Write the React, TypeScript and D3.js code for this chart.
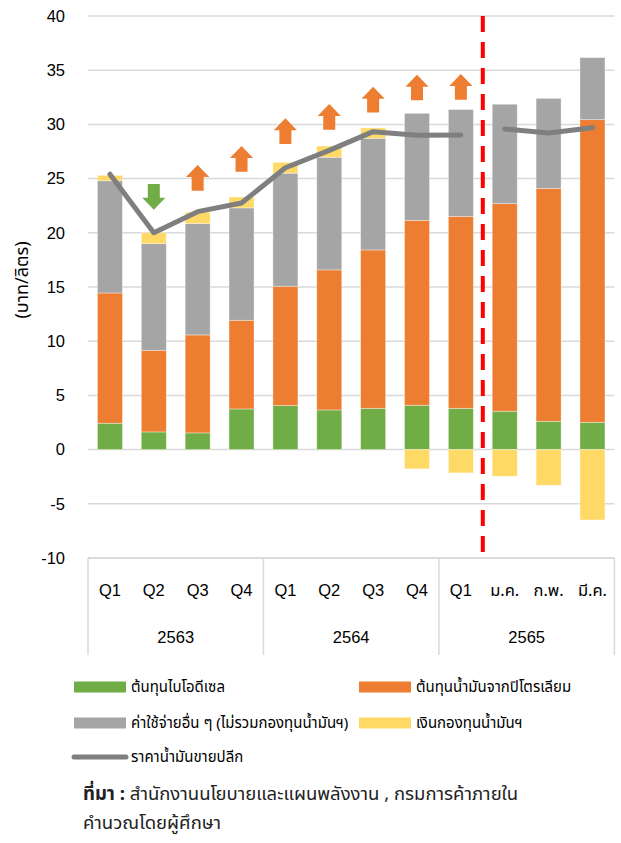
import React from "react";
import * as d3 from "d3";

// ---- data ----
const categoryKeys = ["63Q1", "63Q2", "63Q3", "63Q4", "64Q1", "64Q2", "64Q3", "64Q4", "65Q1", "65M1", "65M2", "65M3"];
const categoryLabels = ["Q1", "Q2", "Q3", "Q4", "Q1", "Q2", "Q3", "Q4", "Q1", "ม.ค.", "ก.พ.", "มี.ค."];
const yearGroups = ["2563", "2564", "2565"];
const yearGroupSizes = [4, 4, 4];

const biodieselCost = [2.43, 1.63, 1.54, 3.75, 4.06, 3.66, 3.81, 4.09, 3.81, 3.54, 2.61, 2.52];
const petroleumCost = [12.02, 7.53, 9.04, 8.18, 11.01, 12.92, 14.61, 17.06, 17.71, 19.15, 21.49, 27.92];
const otherCosts = [10.35, 9.84, 10.27, 10.37, 10.43, 10.39, 10.3, 9.87, 9.85, 9.17, 8.3, 5.72];
const oilFund = [0.5, 1.0, 1.05, 1.0, 1.0, 1.03, 0.95, -1.78, -2.15, -2.46, -3.29, -6.49];
const retailPrice = [25.4, 20.0, 21.95, 22.75, 26.0, 27.6, 29.33, 29.0, 29.03, 29.58, 29.2, 29.7];
const lineSegments = [[0, 8], [9, 11]];

const arrowDirection = [null, "down", "up", "up", "up", "up", "up", "up", "up", null, null, null];
const arrowTopValue = [null, 24.5, 26.25, 28.0, 30.56, 31.88, 33.48, 34.59, 34.65, null, null, null];

const yTicks = [-10, -5, 0, 5, 10, 15, 20, 25, 30, 35, 40];
const dividerAfterIndex = 8;

const seriesNames = ["ต้นทุนไบโอดีเซล", "ต้นทุนน้ำมันจากปิโตรเลียม", "ค่าใช้จ่ายอื่น ๆ (ไม่รวมกองทุนน้ำมันฯ)", "เงินกองทุนน้ำมันฯ", "ราคาน้ำมันขายปลีก"];
const seriesColors = ["#70AD47", "#ED7D31", "#A5A5A5", "#FFD966", "#7F7F7F"];

const yAxisTitle = "(บาท/ลิตร)";
const sourceBold = "ที่มา :";
const sourceText = " สำนักงานนโยบายและแผนพลังงาน , กรมการค้าภายใน";
const sourceText2 = "คำนวณโดยผู้ศึกษา";

const W = 621;
const H = 843;
const plotLeft = 88;
const plotRight = 614.4;
const plotTop = 16;
const plotBottom = 558;

const latin = "'Liberation Sans', Arial, Helvetica, sans-serif";
const thai = "'Noto Sans Thai', 'Noto Sans Thai Looped', 'Liberation Sans', sans-serif";

export default function App() {
  const x = d3.scaleBand<string>().domain(categoryKeys).range([plotLeft, plotRight]).paddingInner(0.43).paddingOuter(0.215);
  const y = d3.scaleLinear().domain([-10, 40]).range([plotBottom, plotTop]);
  const bw = x.bandwidth();

  // stacked segments
  const bars: { key: string; x: number; y0: number; y1: number; color: string }[] = [];
  categoryKeys.forEach((k, i) => {
    let pos = 0;
    const comps = [biodieselCost[i], petroleumCost[i], otherCosts[i]];
    comps.forEach((v, j) => {
      bars.push({ key: k + j, x: x(k)!, y0: pos, y1: pos + v, color: seriesColors[j] });
      pos += v;
    });
    const f = oilFund[i];
    if (f >= 0) bars.push({ key: k + "f", x: x(k)!, y0: pos, y1: pos + f, color: seriesColors[3] });
    else bars.push({ key: k + "f", x: x(k)!, y0: f, y1: 0, color: seriesColors[3] });
  });

  const segPaths = lineSegments.map(([a, b]) => {
    const pts: [number, number][] = [];
    for (let i = a; i <= b; i++) pts.push([x(categoryKeys[i])! + bw / 2, y(retailPrice[i])]);
    return d3.line()(pts) as string;
  });

  const arrowPath = (cx: number, top: number, dir: string) => {
    const h = 25.7, hw = 11.6, sw = 6, hh = 12;
    if (dir === "up") {
      return `M${cx},${top} L${cx + hw},${top + hh} L${cx + sw},${top + hh} L${cx + sw},${top + h} L${cx - sw},${top + h} L${cx - sw},${top + hh} L${cx - hw},${top + hh} Z`;
    }
    const b = top + h;
    return `M${cx},${b} L${cx + hw},${b - hh} L${cx + sw},${b - hh} L${cx + sw},${top} L${cx - sw},${top} L${cx - sw},${b - hh} L${cx - hw},${b - hh} Z`;
  };

  const step = x.step();
  let acc = 0;
  const groupBounds = yearGroupSizes.map((n) => {
    const start = plotLeft + acc * step;
    acc += n;
    return { start, end: plotLeft + acc * step };
  });

  const dividerX = plotLeft + (dividerAfterIndex + 1) * step;

  const legendItems = [
    { name: seriesNames[0], color: seriesColors[0], x: 74, y: 687, type: "rect" },
    { name: seriesNames[1], color: seriesColors[1], x: 359, y: 687, type: "rect" },
    { name: seriesNames[2], color: seriesColors[2], x: 74, y: 723, type: "rect" },
    { name: seriesNames[3], color: seriesColors[3], x: 359, y: 723, type: "rect" },
    { name: seriesNames[4], color: seriesColors[4], x: 74, y: 757, type: "line" },
  ];

  return (
    <div style={{ position: "absolute", left: 0, top: 0, width: W, height: H, background: "#fff" }}>
      <svg width={W} height={H} style={{ display: "block" }}>
        {/* gridlines */}
        {yTicks.map((t) => (
          <line key={t} x1={plotLeft} x2={plotRight} y1={y(t)} y2={y(t)} stroke="#D9D9D9" strokeWidth={1.5} />
        ))}
        {/* tick labels */}
        {yTicks.map((t) => (
          <text key={"l" + t} x={65} y={y(t)} dy="0.35em" textAnchor="end" fontSize={16.5} fontFamily={latin} fill="#000">
            {t}
          </text>
        ))}
        <text transform={`translate(22,280) rotate(-90)`} textAnchor="middle" dy="0.35em" fontSize={18} fontFamily={thai} fill="#000">
          {yAxisTitle}
        </text>

        {/* bars */}
        {bars.map((b) => (
          <rect
            key={b.key}
            x={b.x}
            y={y(b.y1)}
            width={bw}
            height={Math.abs(y(b.y0) - y(b.y1))}
            fill={b.color}
            stroke="#fff"
            strokeOpacity={0.45}
            strokeWidth={0.8}
          />
        ))}

        {/* retail price line */}
        {segPaths.map((p, i) => (
          <path key={i} d={p} fill="none" stroke={seriesColors[4]} strokeWidth={5} strokeLinejoin="round" strokeLinecap="round" />
        ))}

        {/* arrows */}
        {categoryKeys.map((k, i) =>
          arrowDirection[i] ? (
            <path
              key={"a" + k}
              d={arrowPath(x(k)! + bw / 2, y(arrowTopValue[i] as number), arrowDirection[i] as string)}
              fill={arrowDirection[i] === "up" ? seriesColors[1] : seriesColors[0]}
            />
          ) : null
        )}

        {/* divider */}
        <line x1={dividerX} x2={dividerX} y1={plotTop} y2={plotBottom} stroke="#FF0000" strokeWidth={4} strokeDasharray="16 10" />

        {/* category axis box */}
        <line x1={plotLeft} x2={plotRight} y1={plotBottom} y2={plotBottom} stroke="#D9D9D9" strokeWidth={1.5} />
        {[groupBounds[0].start, ...groupBounds.map((g) => g.end)].map((gx, i) => (
          <line key={"v" + i} x1={gx} x2={gx} y1={plotBottom} y2={655} stroke="#D9D9D9" strokeWidth={1.5} />
        ))}
        {categoryKeys.map((k, i) => (
          <text key={"c" + k} x={x(k)! + bw / 2} y={590} dy="0.35em" textAnchor="middle" fontSize={16.5} fontFamily={i >= 9 ? thai : latin} fill="#000">
            {categoryLabels[i]}
          </text>
        ))}
        {yearGroups.map((g, i) => (
          <text key={g} x={(groupBounds[i].start + groupBounds[i].end) / 2} y={637} dy="0.35em" textAnchor="middle" fontSize={16.5} fontFamily={latin} fill="#000">
            {g}
          </text>
        ))}

        {/* legend */}
        {legendItems.map((l) => (
          <g key={l.name}>
            {l.type === "rect" ? (
              <rect x={l.x} y={l.y - 5.5} width={52} height={11} fill={l.color} />
            ) : (
              <line x1={l.x} x2={l.x + 52} y1={l.y} y2={l.y} stroke={l.color} strokeWidth={5} strokeLinecap="round" />
            )}
            <text x={l.x + 57} y={l.y} dy="0.35em" fontSize={15} fontFamily={thai} fill="#000">
              {l.name}
            </text>
          </g>
        ))}

        {/* source */}
        <text x={83} y={794} dy="0.35em" fontSize={18.5} fontFamily={thai} fill="#222">
          <tspan fontWeight="bold">{sourceBold}</tspan>
          <tspan>{sourceText}</tspan>
        </text>
        <text x={83} y={823} dy="0.35em" fontSize={18.5} fontFamily={thai} fill="#222">
          {sourceText2}
        </text>
      </svg>
    </div>
  );
}
